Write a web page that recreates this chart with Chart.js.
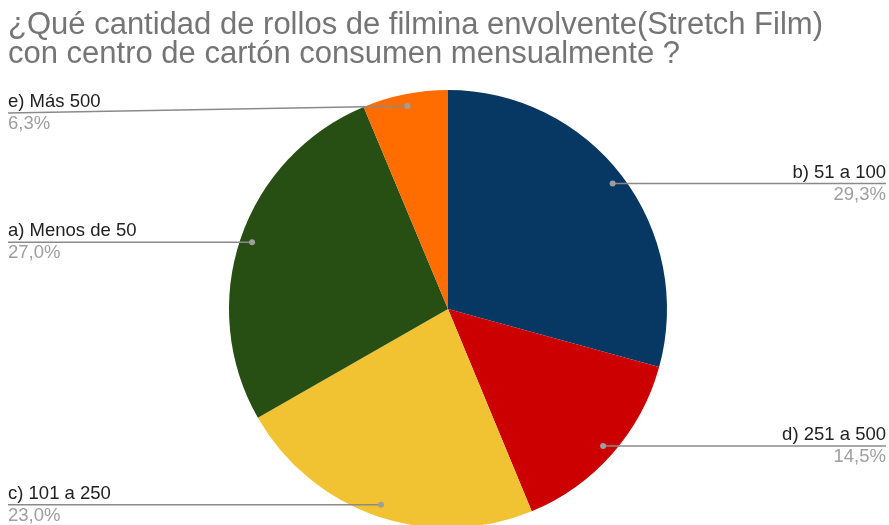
<!DOCTYPE html>
<html>
<head>
<meta charset="utf-8">
<script src="https://cdn.jsdelivr.net/npm/chart.js@4"></script>
<style>
  html, body { margin: 0; padding: 0; background: #ffffff; overflow: hidden; }
  #wrap { position: relative; width: 889px; height: 560px; }
</style>
</head>
<body>
<div id="wrap"><canvas id="pie-chart" width="889" height="560"></canvas></div>
<script>
// Datos del gráfico (orden en sentido horario desde arriba)
const categories = ["b) 51 a 100", "d) 251 a 500", "c) 101 a 250", "a) Menos de 50", "e) Más 500"];
const percentValues = [29.3, 14.5, 23.0, 27.0, 6.3];
const sliceColors = ["#073763", "#cc0000", "#f1c232", "#274e13", "#ff6d01"];
const titleLines = [
  "¿Qué cantidad de rollos de filmina envolvente(Stretch Film)",
  "con centro de cartón consumen mensualmente ?"
];

document.addEventListener("DOMContentLoaded", function () {
  const ctx = document.getElementById("pie-chart");

  // Plugin para título y etiquetas con líneas guía
  const labelsPlugin = {
    id: "leaderLabels",
    afterDraw(chart) {
      const c = chart.ctx;
      const meta = chart.getDatasetMeta(0);
      c.save();

      // Título
      c.font = "31px 'Liberation Sans', Arial, sans-serif";
      c.fillStyle = "#757575";
      c.textAlign = "left";
      c.textBaseline = "alphabetic";
      c.fillText(titleLines[0], 8, 34);
      c.fillText(titleLines[1], 8, 63);

      meta.data.forEach((arc, i) => {
        const { x, y, startAngle, endAngle, outerRadius } = arc.getProps(
          ["x", "y", "startAngle", "endAngle", "outerRadius"], true);
        const mid = (startAngle + endAngle) / 2;
        const dx = x + Math.cos(mid) * outerRadius * 0.945;
        const dy = y + Math.sin(mid) * outerRadius * 0.945;
        const right = dx > x;
        // la línea superior izquierda baja un poco para no chocar con el título
        const lineY = (!right && dy < 120) ? dy + 7 : dy;
        const endX = right ? 886 : 8;

        c.strokeStyle = "#8a8a8a";
        c.lineWidth = 1.5;
        c.beginPath();
        c.moveTo(dx, dy);
        c.lineTo(endX, lineY);
        c.stroke();

        c.fillStyle = "#9e9e9e";
        c.beginPath();
        c.arc(dx, dy, 3, 0, Math.PI * 2);
        c.fill();

        c.textAlign = right ? "right" : "left";
        c.font = "18.5px 'Liberation Sans', Arial, sans-serif";
        c.fillStyle = "#222222";
        c.fillText(categories[i], endX, lineY - 6);
        c.fillStyle = "#9e9e9e";
        c.fillText(percentValues[i].toFixed(1).replace(".", ",") + "%", endX, lineY + 16);
      });
      c.restore();
    },
  };

  new Chart(ctx, {
    type: "pie",
    data: {
      labels: categories,
      datasets: [
        {
          data: percentValues,
          backgroundColor: sliceColors,
          borderWidth: 0,
        },
      ],
    },
    options: {
      responsive: false,
      animation: false,
      layout: {
        padding: { top: 90, bottom: 32, left: 229, right: 222 },
      },
      plugins: {
        legend: { display: false },
        tooltip: { enabled: false },
      },
    },
    plugins: [labelsPlugin],
  });
});
</script>
</body>
</html>
